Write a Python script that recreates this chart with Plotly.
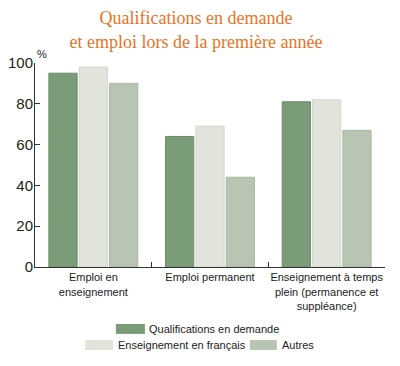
import plotly.graph_objects as go

categories = ["Emploi en<br>enseignement", "Emploi permanent",
              "Enseignement à temps<br>plein (permanence et<br>suppléance)"]
series_names = ["Qualifications en demande", "Enseignement en français", "Autres"]
qualif = [95, 64, 81]
francais = [98, 69, 82]
autres = [90, 44, 67]
y_ticks = [0, 20, 40, 60, 80, 100]

fills = ["#7b9c79", "#e1e4db", "#b9c5b3"]
edges = ["#6b8b69", "#d2d6cc", "#a9b6a3"]

fig = go.Figure()
for name, vals, fc, ec in zip(series_names, [qualif, francais, autres], fills, edges):
    fig.add_trace(go.Bar(x=categories, y=vals, name=name,
                         marker=dict(color=fc, line=dict(color=ec, width=1)),
                         showlegend=False))

font_sans = "Liberation Sans, Arial, sans-serif"

fig.update_layout(
    width=400, height=366,
    margin=dict(l=27, r=23, t=55, b=107, autoexpand=False),
    paper_bgcolor="white", plot_bgcolor="white",
    barmode="group", bargap=0.22, bargroupgap=0.07,
    font=dict(family=font_sans, size=11, color="#222"),
    title=dict(text="Qualifications en demande<br>et emploi lors de la première année",
               x=0.47, xanchor="center", y=0.955, yanchor="top",
               font=dict(family="Liberation Serif, Times New Roman, serif",
                         size=18, color="#e8741f")),
    xaxis=dict(type="category", showline=True, linecolor="#333", linewidth=1,
               ticks="inside", tickson="boundaries", ticklen=5, tickcolor="#333",
               showgrid=False, tickfont=dict(size=11, color="#222"),
               tickangle=0, automargin=False, range=[-0.5, 2.5]),
    yaxis=dict(range=[0, 100], tickvals=y_ticks, showline=True, linecolor="#333",
               linewidth=1, ticks="inside", ticklen=5, tickcolor="#333",
               showgrid=False, zeroline=False, automargin=False,
               ticklabelstandoff=-2,
               tickfont=dict(size=15, color="#222")),
)

fig.add_annotation(text="%", xref="paper", yref="paper", x=0.02, y=1.0,
                   xanchor="center", yanchor="bottom", showarrow=False,
                   font=dict(size=11, color="#222"), yshift=1)

# manual legend (wide swatches, two rows)
legend_rows = [
    [(0, 0.231, 0.314, 0.32)],
    [(1, 0.143, 0.223, 0.231), (2, 0.614, 0.691, 0.70)],
]
row_y = [(-0.279, -0.328, -0.304), (-0.358, -0.407, -0.382)]
for r, items in enumerate(legend_rows):
    y0, y1, yc = row_y[r]
    for idx, sx0, sx1, tx in items:
        fig.add_shape(type="rect", xref="paper", yref="paper",
                      x0=sx0, x1=sx1, y0=y1, y1=y0,
                      fillcolor=fills[idx], line=dict(width=0))
        fig.add_annotation(text=series_names[idx], xref="paper", yref="paper",
                           x=tx, y=yc, xanchor="left", yanchor="middle",
                           showarrow=False, font=dict(size=11, color="#222"))

fig.write_html("out.html")
